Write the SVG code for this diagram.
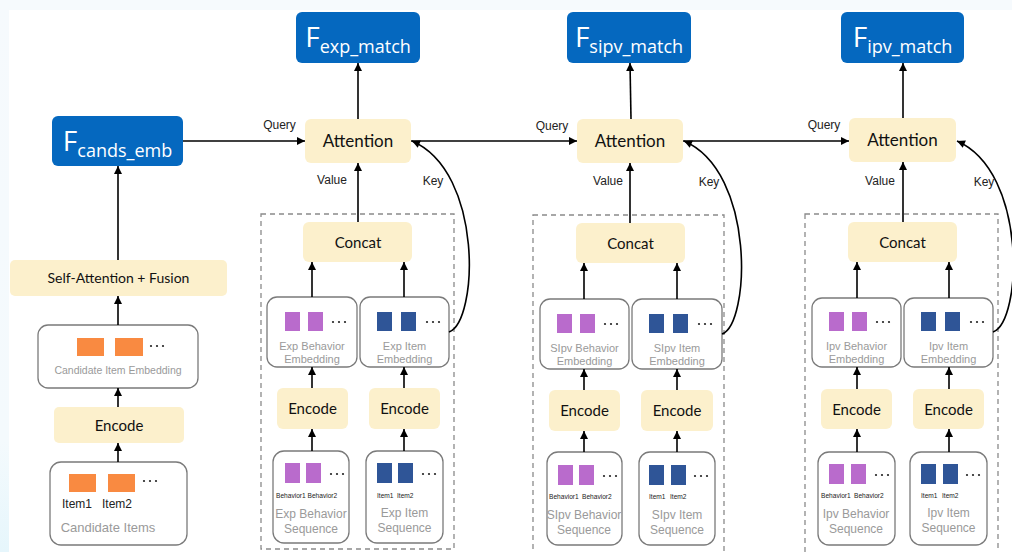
<svg xmlns="http://www.w3.org/2000/svg" width="1012" height="552" viewBox="0 0 1012 552">
<defs>
<marker id="arr" viewBox="0 0 10 10" refX="10" refY="5" markerWidth="9" markerHeight="8" markerUnits="userSpaceOnUse" orient="auto">
<path d="M0,0 L10,5 L0,10 z" fill="#000"/>
</marker>
<linearGradient id="lg" x1="0" y1="0" x2="0" y2="1">
<stop offset="0" stop-color="#F6FAFD"/>
<stop offset="0.8" stop-color="#F4FAFD"/>
<stop offset="1" stop-color="#E6F6FC"/>
</linearGradient>
<style>
.fbox{fill:#0568BF;}
.ybox{fill:#FCF0CC;}
.wbox{fill:#FFFFFF;stroke:#7A7A7A;stroke-width:1.3;}
.dash{fill:none;stroke:#8A8A8A;stroke-width:1.3;stroke-dasharray:5,4;}
.ftxt{font-family:"Open Sans","Noto Sans",sans-serif;fill:#FFFFFF;}
.btxt{font-family:Lato,"Open Sans",sans-serif;fill:#111;text-anchor:middle;}
.gtxt{font-family:"Liberation Sans",Arial,sans-serif;fill:#9A9A9A;text-anchor:middle;}
.stxt{font-family:"Liberation Sans",Arial,sans-serif;fill:#222;font-size:6.6px;}
.ltxt{font-family:"Liberation Sans",Arial,sans-serif;fill:#222;font-size:12px;text-anchor:middle;}
.conn{fill:none;stroke:#000;stroke-width:1.6;marker-end:url(#arr);}
.or{fill:#F98A41;}
.pu{fill:#B96BCC;}
.bl{fill:#2F5597;}
.dots{fill:#222;}
</style>
</defs>
<rect width="1012" height="552" fill="#FFFFFF"/>
<rect x="0" y="0" width="1012" height="10" fill="#F6FAFD"/>
<rect x="0" y="0" width="9" height="552" fill="url(#lg)"/>

<!-- Left column -->
<g id="F_cands_emb">
<rect class="fbox" x="52" y="116" width="131" height="50" rx="6"/>
<text class="ftxt" x="117.5" y="151" text-anchor="middle"><tspan font-size="28">F</tspan><tspan font-size="18" dy="6">cands_emb</tspan></text>
</g>
<g id="self_attention_fusion">
<rect class="ybox" x="10" y="260" width="217" height="36" rx="5"/>
<text class="btxt" x="118.5" y="283" font-size="14">Self-Attention + Fusion</text>
</g>
<g id="candidate_item_embedding">
<rect class="wbox" x="38" y="325" width="160" height="63" rx="10"/>
<rect class="or" x="77" y="338" width="27" height="18"/>
<rect class="or" x="115" y="338" width="28" height="18"/>
<circle class="dots" cx="151" cy="346" r="1.1"/><circle class="dots" cx="157" cy="346" r="1.1"/><circle class="dots" cx="163" cy="346" r="1.1"/>
<text class="gtxt" x="118" y="374" font-size="10.5">Candidate Item Embedding</text>
</g>
<g id="encode_cand">
<rect class="ybox" x="54" y="407" width="130" height="36" rx="5"/>
<text class="btxt" x="119" y="431" font-size="15">Encode</text>
</g>
<g id="candidate_items">
<rect class="wbox" x="50" y="462" width="137" height="83" rx="11"/>
<rect class="or" x="69" y="474" width="27" height="18"/>
<rect class="or" x="108" y="474" width="27" height="18"/>
<circle class="dots" cx="144" cy="481" r="1.1"/><circle class="dots" cx="150" cy="481" r="1.1"/><circle class="dots" cx="156" cy="481" r="1.1"/>
<text class="ltxt" x="77" y="508" font-size="9.5">Item1</text>
<text class="ltxt" x="117" y="508" font-size="9.5">Item2</text>
<text class="gtxt" x="108" y="532" font-size="13">Candidate Items</text>
</g>

<!-- Column 1: exp -->
<g id="col_exp">
<g id="F_exp_match">
<rect class="fbox" x="296" y="12" width="124" height="51" rx="6"/>
<text class="ftxt" x="358" y="47" text-anchor="middle"><tspan font-size="28">F</tspan><tspan font-size="18" dy="6">exp_match</tspan></text>
</g>
<g id="attention_exp">
<rect class="ybox" x="305" y="119" width="106" height="44" rx="6"/>
<text class="btxt" x="358" y="147" font-size="17">Attention</text>
</g>
<g id="dashed_exp"><rect class="dash" x="261" y="214" width="193" height="335"/></g>
<g id="concat_exp">
<rect class="ybox" x="303" y="222" width="109" height="40" rx="6"/>
<text class="btxt" x="358" y="248" font-size="15">Concat</text>
</g>
<g id="exp_behavior_embedding">
<rect class="wbox" x="267" y="297" width="90" height="70" rx="10"/>
<rect class="pu" x="285" y="312" width="15" height="19"/><rect class="pu" x="308" y="312" width="15" height="19"/>
<circle class="dots" cx="333" cy="322" r="1.1"/><circle class="dots" cx="339" cy="322" r="1.1"/><circle class="dots" cx="345" cy="322" r="1.1"/>
<text class="gtxt" x="312" y="350" font-size="11">Exp Behavior</text>
<text class="gtxt" x="312" y="363" font-size="11">Embedding</text>
</g>
<g id="exp_item_embedding">
<rect class="wbox" x="360" y="297" width="89" height="70" rx="10"/>
<rect class="bl" x="377" y="312" width="15" height="19"/><rect class="bl" x="401" y="312" width="15" height="19"/>
<circle class="dots" cx="427" cy="322" r="1.1"/><circle class="dots" cx="433" cy="322" r="1.1"/><circle class="dots" cx="439" cy="322" r="1.1"/>
<text class="gtxt" x="404.5" y="350" font-size="11">Exp Item</text>
<text class="gtxt" x="404.5" y="363" font-size="11">Embedding</text>
</g>
<g id="encode_exp_behavior">
<rect class="ybox" x="277" y="388" width="71" height="41" rx="6"/>
<text class="btxt" x="312.5" y="414" font-size="15">Encode</text>
</g>
<g id="encode_exp_item">
<rect class="ybox" x="369" y="388" width="71" height="41" rx="6"/>
<text class="btxt" x="404.5" y="414" font-size="15">Encode</text>
</g>
<g id="exp_behavior_sequence">
<rect class="wbox" x="273" y="451" width="76" height="92" rx="11"/>
<rect class="pu" x="285" y="463" width="15" height="20"/><rect class="pu" x="306" y="463" width="15" height="20"/>
<circle class="dots" cx="331" cy="474" r="1.1"/><circle class="dots" cx="337" cy="474" r="1.1"/><circle class="dots" cx="343" cy="474" r="1.1"/>
<text class="stxt" x="276" y="498">Behavior1</text><text class="stxt" x="307.5" y="498">Behavior2</text>
<text class="gtxt" x="311" y="518" font-size="12">Exp Behavior</text>
<text class="gtxt" x="311" y="533" font-size="12">Sequence</text>
</g>
<g id="exp_item_sequence">
<rect class="wbox" x="366" y="451" width="77" height="92" rx="11"/>
<rect class="bl" x="377" y="463" width="15" height="20"/><rect class="bl" x="398" y="463" width="15" height="20"/>
<circle class="dots" cx="423" cy="474" r="1.1"/><circle class="dots" cx="429" cy="474" r="1.1"/><circle class="dots" cx="435" cy="474" r="1.1"/>
<text class="stxt" x="377" y="498">Item1</text><text class="stxt" x="397" y="498">Item2</text>
<text class="gtxt" x="404.5" y="517" font-size="12">Exp Item</text>
<text class="gtxt" x="404.5" y="532" font-size="12">Sequence</text>
</g>
</g>

<!-- Column 2: sipv -->
<g id="col_sipv" transform="translate(272,1)">
<g id="F_sipv_match">
<rect class="fbox" x="295" y="11" width="124" height="51" rx="6"/>
<text class="ftxt" x="357" y="46" text-anchor="middle"><tspan font-size="28">F</tspan><tspan font-size="18" dy="6">sipv_match</tspan></text>
</g>
<g id="attention_sipv">
<rect class="ybox" x="305" y="118" width="106" height="44" rx="6"/>
<text class="btxt" x="358" y="146" font-size="17">Attention</text>
</g>
<g id="dashed_sipv"><rect class="dash" x="261" y="214" width="191" height="345"/></g>
<g id="concat_sipv">
<rect class="ybox" x="304" y="222" width="109" height="40" rx="6"/>
<text class="btxt" x="358.5" y="248" font-size="15">Concat</text>
</g>
<g id="sipv_behavior_embedding">
<rect class="wbox" x="268" y="298" width="89" height="70" rx="10"/>
<rect class="pu" x="285" y="313" width="15" height="19"/><rect class="pu" x="308" y="313" width="15" height="19"/>
<circle class="dots" cx="333" cy="323" r="1.1"/><circle class="dots" cx="339" cy="323" r="1.1"/><circle class="dots" cx="345" cy="323" r="1.1"/>
<text class="gtxt" x="312.5" y="351" font-size="11">SIpv Behavior</text>
<text class="gtxt" x="312.5" y="364" font-size="11">Embedding</text>
</g>
<g id="sipv_item_embedding">
<rect class="wbox" x="360" y="298" width="90" height="70" rx="10"/>
<rect class="bl" x="377" y="313" width="15" height="19"/><rect class="bl" x="401" y="313" width="15" height="19"/>
<circle class="dots" cx="427" cy="323" r="1.1"/><circle class="dots" cx="433" cy="323" r="1.1"/><circle class="dots" cx="439" cy="323" r="1.1"/>
<text class="gtxt" x="405" y="351" font-size="11">SIpv Item</text>
<text class="gtxt" x="405" y="364" font-size="11">Embedding</text>
</g>
<g id="encode_sipv_behavior">
<rect class="ybox" x="277" y="389" width="71" height="41" rx="6"/>
<text class="btxt" x="312.5" y="415" font-size="15">Encode</text>
</g>
<g id="encode_sipv_item">
<rect class="ybox" x="369" y="389" width="72" height="41" rx="6"/>
<text class="btxt" x="405" y="415" font-size="15">Encode</text>
</g>
<g id="sipv_behavior_sequence">
<rect class="wbox" x="275" y="451" width="75" height="93" rx="11"/>
<rect class="pu" x="286" y="464" width="15" height="20"/><rect class="pu" x="307" y="464" width="15" height="20"/>
<circle class="dots" cx="332" cy="475" r="1.1"/><circle class="dots" cx="338" cy="475" r="1.1"/><circle class="dots" cx="344" cy="475" r="1.1"/>
<text class="stxt" x="277" y="498">Behavior1</text><text class="stxt" x="310" y="498">Behavior2</text>
<text class="gtxt" x="312" y="518" font-size="12">SIpv Behavior</text>
<text class="gtxt" x="312" y="533" font-size="12">Sequence</text>
</g>
<g id="sipv_item_sequence">
<rect class="wbox" x="367" y="451" width="76" height="93" rx="11"/>
<rect class="bl" x="377" y="464" width="15" height="20"/><rect class="bl" x="399" y="464" width="15" height="20"/>
<circle class="dots" cx="423" cy="475" r="1.1"/><circle class="dots" cx="429" cy="475" r="1.1"/><circle class="dots" cx="435" cy="475" r="1.1"/>
<text class="stxt" x="377" y="498">Item1</text><text class="stxt" x="398" y="498">Item2</text>
<text class="gtxt" x="405" y="518" font-size="12">SIpv Item</text>
<text class="gtxt" x="405" y="533" font-size="12">Sequence</text>
</g>
</g>

<!-- Column 3: ipv -->
<g id="col_ipv" transform="translate(544,0)">
<g id="F_ipv_match">
<rect class="fbox" x="297" y="12" width="123" height="51" rx="6"/>
<text class="ftxt" x="358.5" y="47" text-anchor="middle"><tspan font-size="28">F</tspan><tspan font-size="18" dy="6">ipv_match</tspan></text>
</g>
<g id="attention_ipv">
<rect class="ybox" x="305" y="118" width="107" height="44" rx="6"/>
<text class="btxt" x="358.5" y="146" font-size="17">Attention</text>
</g>
<g id="dashed_ipv"><rect class="dash" x="261" y="214" width="193" height="345"/></g>
<g id="concat_ipv">
<rect class="ybox" x="304" y="222" width="109" height="40" rx="6"/>
<text class="btxt" x="358.5" y="248" font-size="15">Concat</text>
</g>
<g id="ipv_behavior_embedding">
<rect class="wbox" x="268" y="298" width="89" height="69" rx="10"/>
<rect class="pu" x="285" y="312" width="15" height="19"/><rect class="pu" x="308" y="312" width="15" height="19"/>
<circle class="dots" cx="333" cy="322" r="1.1"/><circle class="dots" cx="339" cy="322" r="1.1"/><circle class="dots" cx="345" cy="322" r="1.1"/>
<text class="gtxt" x="312.5" y="350" font-size="11">Ipv Behavior</text>
<text class="gtxt" x="312.5" y="363" font-size="11">Embedding</text>
</g>
<g id="ipv_item_embedding">
<rect class="wbox" x="360" y="298" width="89" height="69" rx="10"/>
<rect class="bl" x="377" y="312" width="15" height="19"/><rect class="bl" x="401" y="312" width="15" height="19"/>
<circle class="dots" cx="427" cy="322" r="1.1"/><circle class="dots" cx="433" cy="322" r="1.1"/><circle class="dots" cx="439" cy="322" r="1.1"/>
<text class="gtxt" x="404.5" y="350" font-size="11">Ipv Item</text>
<text class="gtxt" x="404.5" y="363" font-size="11">Embedding</text>
</g>
<g id="encode_ipv_behavior">
<rect class="ybox" x="277" y="389" width="71" height="40" rx="6"/>
<text class="btxt" x="312.5" y="415" font-size="15">Encode</text>
</g>
<g id="encode_ipv_item">
<rect class="ybox" x="369" y="389" width="71" height="40" rx="6"/>
<text class="btxt" x="404.5" y="415" font-size="15">Encode</text>
</g>
<g id="ipv_behavior_sequence">
<rect class="wbox" x="274" y="452" width="77" height="93" rx="11"/>
<rect class="pu" x="285" y="464" width="15" height="20"/><rect class="pu" x="307" y="464" width="15" height="20"/>
<circle class="dots" cx="332" cy="475" r="1.1"/><circle class="dots" cx="338" cy="475" r="1.1"/><circle class="dots" cx="344" cy="475" r="1.1"/>
<text class="stxt" x="277" y="498">Behavior1</text><text class="stxt" x="310" y="498">Behavior2</text>
<text class="gtxt" x="312" y="518" font-size="12">Ipv Behavior</text>
<text class="gtxt" x="312" y="533" font-size="12">Sequence</text>
</g>
<g id="ipv_item_sequence">
<rect class="wbox" x="366" y="452" width="77" height="93" rx="11"/>
<rect class="bl" x="377" y="464" width="15" height="20"/><rect class="bl" x="399" y="464" width="15" height="20"/>
<circle class="dots" cx="423" cy="475" r="1.1"/><circle class="dots" cx="429" cy="475" r="1.1"/><circle class="dots" cx="435" cy="475" r="1.1"/>
<text class="stxt" x="377" y="498">Item1</text><text class="stxt" x="398" y="498">Item2</text>
<text class="gtxt" x="404.5" y="517" font-size="12">Ipv Item</text>
<text class="gtxt" x="404.5" y="532" font-size="12">Sequence</text>
</g>
</g>

<!-- Connectors -->
<g id="connectors">
<line class="conn" x1="118" y1="260" x2="118" y2="166"/>
<line class="conn" x1="118" y1="325" x2="118" y2="296"/>
<line class="conn" x1="118" y1="407" x2="118" y2="388"/>
<line class="conn" x1="118" y1="462" x2="118" y2="443"/>
<line class="conn" x1="183" y1="141" x2="305" y2="141"/>
<line class="conn" x1="411" y1="141" x2="577" y2="141"/>
<line class="conn" x1="683" y1="141" x2="849" y2="141"/>
<g id="conn_exp">
<line class="conn" x1="358" y1="119" x2="358" y2="63"/>
<line class="conn" x1="358" y1="222" x2="358" y2="163"/>
<line class="conn" x1="312" y1="297" x2="312" y2="262"/>
<line class="conn" x1="404" y1="297" x2="404" y2="262"/>
<line class="conn" x1="312" y1="388" x2="312" y2="367"/>
<line class="conn" x1="404" y1="388" x2="404" y2="367"/>
<line class="conn" x1="312" y1="451" x2="312" y2="429"/>
<line class="conn" x1="404" y1="451" x2="404" y2="429"/>
<path class="conn" d="M449,332 C478,322 484,172 412,141"/>
</g>
<g id="conn_sipv">
<line class="conn" x1="631" y1="119" x2="630" y2="63"/>
<line class="conn" x1="630" y1="223" x2="630" y2="163"/>
<line class="conn" x1="584" y1="299" x2="584" y2="263"/>
<line class="conn" x1="677" y1="299" x2="677" y2="263"/>
<line class="conn" x1="584" y1="390" x2="584" y2="369"/>
<line class="conn" x1="677" y1="390" x2="677" y2="369"/>
<line class="conn" x1="584" y1="452" x2="584" y2="431"/>
<line class="conn" x1="677" y1="452" x2="677" y2="431"/>
<path class="conn" d="M722,334 C750,324 756,172 684,141"/>
</g>
<g id="conn_ipv">
<line class="conn" x1="903" y1="118" x2="903" y2="63"/>
<line class="conn" x1="903" y1="222" x2="903" y2="162"/>
<line class="conn" x1="857" y1="298" x2="857" y2="262"/>
<line class="conn" x1="949" y1="298" x2="949" y2="262"/>
<line class="conn" x1="857" y1="389" x2="857" y2="367"/>
<line class="conn" x1="949" y1="389" x2="949" y2="367"/>
<line class="conn" x1="857" y1="452" x2="857" y2="429"/>
<line class="conn" x1="949" y1="452" x2="949" y2="429"/>
<path class="conn" d="M993,332 C1022,322 1028,172 957,141"/>
</g>
<g id="labels">
<text class="ltxt" x="279.5" y="129">Query</text>
<text class="ltxt" x="332" y="184">Value</text>
<text class="ltxt" x="433" y="185">Key</text>
<text class="ltxt" x="552" y="130">Query</text>
<text class="ltxt" x="608" y="185">Value</text>
<text class="ltxt" x="709" y="186">Key</text>
<text class="ltxt" x="824" y="129">Query</text>
<text class="ltxt" x="880" y="185">Value</text>
<text class="ltxt" x="984" y="186">Key</text>
</g>
</g>
</svg>
